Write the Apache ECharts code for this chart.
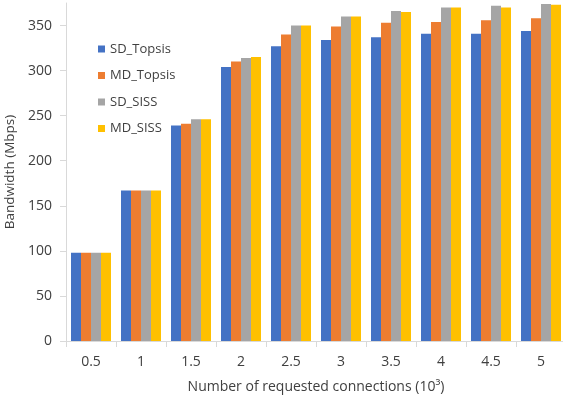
<!DOCTYPE html>
<html>
<head>
<meta charset="utf-8">
<script src="https://cdn.jsdelivr.net/npm/echarts@6/dist/echarts.min.js"></script>
<style>
html,body{margin:0;padding:0;background:#fff;}
#c{width:563px;height:396px;}
</style>
</head>
<body>
<div id="c"></div>
<script>
var categories = ['0.5','1','1.5','2','2.5','3','3.5','4','4.5','5'];
var sdTopsis = [98,167,239,304,327,334,337,341,341,344];
var mdTopsis = [98,167,241,310,340,349,353,354,356,358];
var sdSiss = [98,167,246,314,350,360,366,370,372,374];
var mdSiss = [98,167,246,315,350,360,365,370,370,373];
var yTicks = [0,50,100,150,200,250,300,350];
var seriesNames = ['SD_Topsis','MD_Topsis','SD_SISS','MD_SISS'];
var colors = ['#4472C4','#ED7D31','#A5A5A5','#FFC000'];

var font = "'Open Sans', sans-serif";
var chart = echarts.init(document.getElementById('c'), null, {renderer:'canvas'});
var dataSets = [sdTopsis, mdTopsis, sdSiss, mdSiss];
chart.setOption({
  animation:false,
  color: colors,
  textStyle:{fontFamily:font},
  grid:{left:66, right:-3, top:3, bottom:55, containLabel:false, outerBoundsMode:'none'},
  legend:{
    orient:'vertical', left:93, top:37,
    itemWidth:7, itemHeight:7, itemGap:12.5,
    icon:'rect',
    data: seriesNames,
    textStyle:{fontFamily:font, fontSize:13, color:'#404040', lineHeight:14}
  },
  xAxis:{
    type:'category', data:categories,
    name:'Number of requested connections (10³)',
    nameLocation:'middle', nameGap:39,
    nameTextStyle:{fontFamily:font, fontSize:14, color:'#404040'},
    axisLine:{lineStyle:{color:'#D9D9D9', width:1}},
    axisTick:{show:true, length:6, lineStyle:{color:'#D9D9D9'}},
    axisLabel:{fontFamily:font, fontSize:14, color:'#404040', margin:14}
  },
  yAxis:{
    type:'value', min:0, max:375, interval:50,
    name:'Bandwidth (Mbps)',
    nameLocation:'middle', nameGap:46,
    nameTextStyle:{fontFamily:font, fontSize:13.5, color:'#404040'},
    splitLine:{show:false},
    axisLine:{show:true, lineStyle:{color:'#D9D9D9', width:1}},
    axisTick:{show:true, length:6, lineStyle:{color:'#D9D9D9'}, customValues:yTicks},
    axisLabel:{fontFamily:font, fontSize:14, color:'#404040', margin:14, customValues:yTicks}
  },
  series: seriesNames.map(function(n,i){
    return {
      name:n, type:'bar', data:dataSets[i],
      barGap:'0%', barCategoryGap:'20%',
      itemStyle:{color:colors[i]}
    };
  })
});
</script>
</body>
</html>
